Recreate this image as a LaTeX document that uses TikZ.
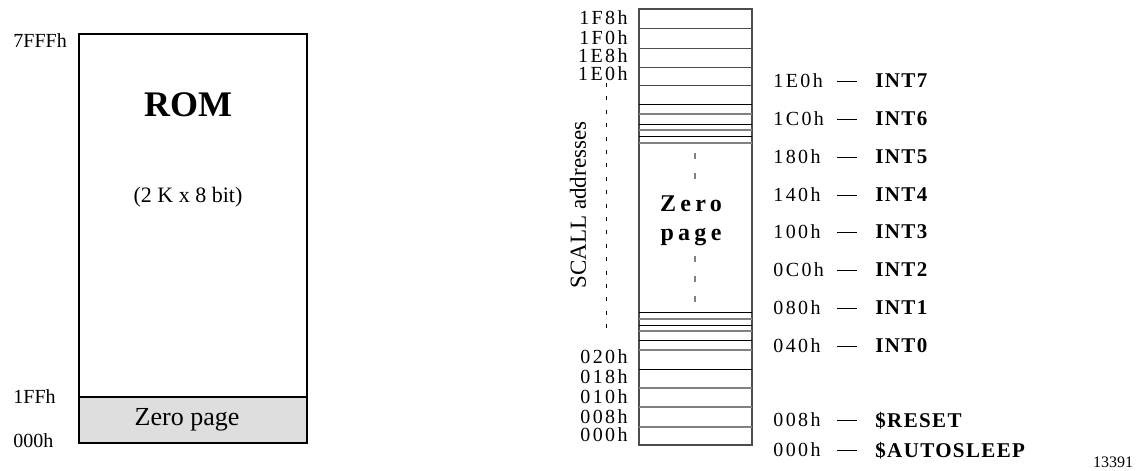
\documentclass[tikz,border=0pt]{standalone}
\usepackage{fontspec}
\setmainfont{Liberation Serif}
\newfontfamily\spacedfont[LetterSpace=12]{Liberation Serif}
\newfontfamily\vecfont[LetterSpace=6.5]{Liberation Serif}
\newfontfamily\widefont[LetterSpace=18]{Liberation Serif}
\usetikzlibrary{positioning}
\definecolor{zpgray}{gray}{0.87}
\definecolor{rulegray}{gray}{0.5}
\definecolor{framegray}{gray}{0.3}

\begin{document}
\begin{tikzpicture}[x=0.5pt, y=-0.5pt,
  adr/.style={font=\fontsize{10}{12}\spacedfont, inner sep=0pt, text depth=0pt},
  vec/.style={font=\fontsize{10.5}{12}\vecfont\bfseries, inner sep=0pt, text depth=0pt},
  side/.style={font=\fontsize{10}{12}\selectfont, inner sep=0pt},
  frame/.style={draw, line width=0.75pt},
  dk/.style={line width=0.5pt},
  lt/.style={line width=0.6pt, rulegray}
]
\useasboundingbox (0,0) rectangle (1137,471);

% ROM map
\draw[frame] (79,34) rectangle (307,443);
\draw[frame, fill=zpgray] (79,397) rectangle (307,443);
\node[font=\fontsize{18}{20}\selectfont\bfseries] (rom) at (188,105) {ROM};
\node[font=\fontsize{11}{13}\selectfont] (romsize) at (188,197) {(2 K x 8 bit)};
\node[font=\fontsize{13}{15}\selectfont] (zp) at (187,420) {Zero page};
\node[side, anchor=west] (rtop) at (13,41) {7FFFh};
\node[side, anchor=west] (rzp) at (13,397) {1FFh};
\node[side, anchor=west] (rbot) at (13,441) {000h};

% zero page detail
\draw[frame, framegray] (639,9) rectangle (752,445);
\foreach \y in {28,48,67,85}
  \draw[dk, framegray] (639,\y) -- (752,\y);
\foreach \y in {104,124,136,312,325,340,369}
  \draw[dk] (639,\y) -- (752,\y);
\foreach \y in {114,130,143,319,331,350,388,407,427}
  \draw[lt] (639,\y) -- (752,\y);

\foreach \y/\t in {18/1F8h, 38/1F0h, 56/1E8h, 74/1E0h,
                   357/020h, 377/018h, 397/010h, 417/008h, 435/000h}
  \node[adr, anchor=east] (m\t) at (628,\y) {\t};

\draw[dk, dash pattern=on 2pt off 4.7pt] (606,83) -- (606,337);
\node[font=\fontsize{11.5}{13}\selectfont, rotate=90] (scall) at (578,205) {SCALL addresses};

\node[font=\fontsize{12}{14.5}\widefont\bfseries, align=center] (zpage) at (691,221) {Zero\\page};
\draw[lt, dash pattern=on 3pt off 7pt] (695,153) -- (695,193);
\draw[lt, dash pattern=on 3pt off 7pt] (695,256) -- (695,305);

% vectors
\coordinate (dl) at (837,0);
\coordinate (dr) at (857,0);
\foreach \y/\a/\n [count=\i] in {81/1E0h/INT7, 119/1C0h/INT6, 157/180h/INT5,
    195/140h/INT4, 232/100h/INT3, 270/0C0h/INT2, 308/080h/INT1,
    346/040h/INT0, 420/008h/\$RESET, 450/000h/\$AUTOSLEEP} {
  \node[adr, anchor=west] (a\i) at (773,\y) {\a};
  \node[vec, anchor=west] (v\i) at (875,\y) {\n};
  \draw[dk] (a\i -| dl) -- (a\i -| dr);
}

\node[font=\fontsize{8}{10}\selectfont] (fig) at (1113,462) {13391};
\end{tikzpicture}
\end{document}
